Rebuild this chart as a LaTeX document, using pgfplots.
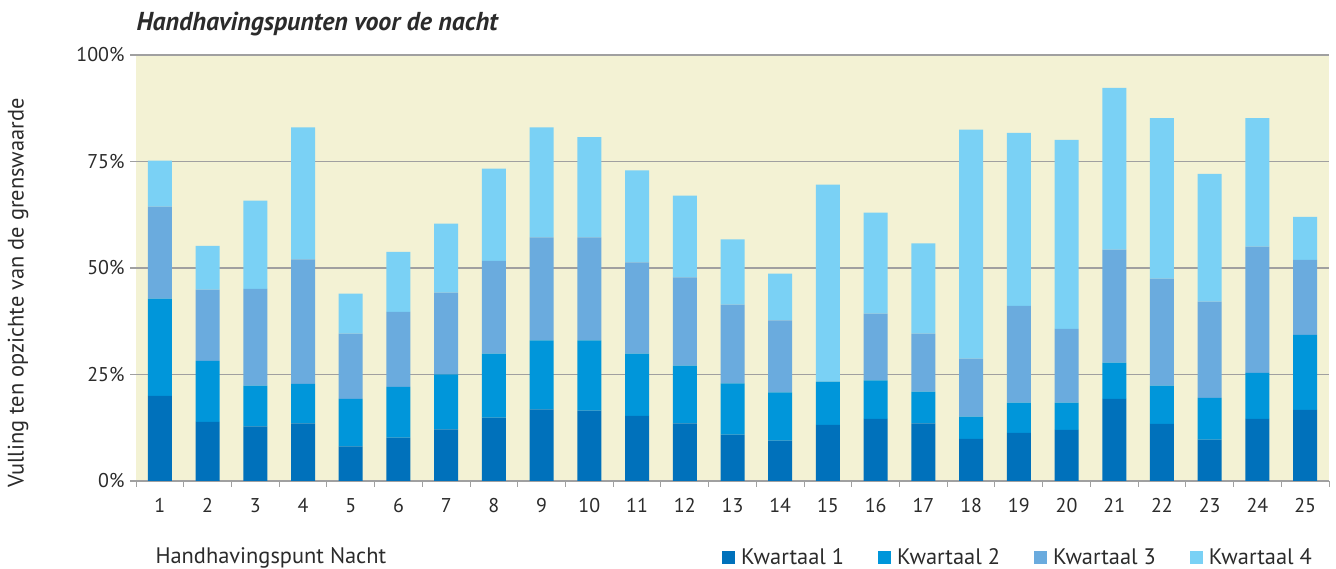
\documentclass[border=0pt]{standalone}
\usepackage{fontspec}
\setmainfont{PT Sans}
\usepackage{pgfplots}
\usepackage{pgfplotstable}
\pgfplotsset{compat=1.18}

\definecolor{kwa}{HTML}{0071BB}
\definecolor{kwb}{HTML}{0096DA}
\definecolor{kwc}{HTML}{6AABDE}
\definecolor{kwd}{HTML}{7AD1F5}
\definecolor{bgyel}{HTML}{F3F2D4}
\definecolor{gridgr}{HTML}{A0A0A0}
\definecolor{txt}{HTML}{2B2B2B}

% share of the limit per quarter (stacked parts, in %)
\pgfplotstableread{
x  q1   q2   q3   q4
1  20.0 22.8 21.6 10.8
2  13.9 14.3 16.7 10.3
3  12.8  9.6 22.7 20.7
4  13.5  9.3 29.2 31.0
5   8.1 11.2 15.3  9.4
6  10.2 11.9 17.6 14.1
7  12.1 12.9 19.2 16.2
8  14.9 15.0 21.8 21.6
9  16.8 16.2 24.2 25.8
10 16.5 16.5 24.2 23.5
11 15.3 14.6 21.4 21.6
12 13.5 13.6 20.7 19.2
13 10.9 12.0 18.5 15.3
14  9.5 11.3 16.9 11.0
15 13.2 10.1  0.0 46.3
16 14.6  9.0 15.7 23.7
17 13.5  7.5 13.6 21.2
18  9.9  5.2 13.6 53.8
19 11.3  7.1 22.7 40.6
20 12.0  6.4 17.3 44.4
21 19.3  8.5 26.5 38.0
22 13.4  9.0 25.1 37.7
23  9.7  9.8 22.6 30.0
24 14.6 10.8 29.6 30.2
25 16.7 17.6 17.6 10.1
}\kwartalen

\begin{document}
\begin{tikzpicture}
\useasboundingbox (0,0) rectangle (1336bp,569bp);
\begin{axis}[
    at={(136bp,88bp)}, anchor=south west,
    scale only axis,
    width=1193bp, height=426bp,
    ybar stacked,
    bar width=24bp,
    xmin=0.5, xmax=25.5,
    ymin=0, ymax=100,
    axis background/.style={fill=bgyel},
    axis x line*=bottom,
    axis y line*=left,
    y axis line style={draw=none},
    x axis line style={gridgr, line width=1.2bp},
    xtick={1,...,25},
    xticklabels={1,2,3,4,5,6,7,8,9,10,11,12,13,14,15,16,17,18,19,20,21,22,23,24,25},
    major x tick style={draw=none},
    minor xtick={0.5,1.5,...,25.5},
    minor x tick style={gridgr, line width=1bp},
    minor tick length=6bp,
    ytick={0,25,50,75,100},
    yticklabels={0\%,25\%,50\%,75\%,100\%},
    major tick length=6bp,
    tick align=outside,
    y tick style={gridgr, line width=1.2bp},
    ymajorgrids,
    major grid style={gridgr, line width=1.2bp},
    tick label style={font=\fontsize{20}{23}\selectfont, text=txt},
    xticklabel style={yshift=-8bp},
    yticklabel style={xshift=-2bp},
    legend style={draw=none, fill=none, at={(0.99,-0.18)}, anchor=east,
        legend columns=4, font=\fontsize{22.5}{26}\selectfont, text=txt,
        /tikz/every odd column/.append style={column sep=4bp},
        /tikz/every even column/.append style={column sep=32bp}},
    legend image code/.code={\fill[#1, draw=none] (0bp,-6bp) rectangle (13bp,7bp);},
]
\addplot[fill=kwa, draw=none] table[x=x, y=q1] {\kwartalen};
\addlegendentry{Kwartaal 1}
\addplot[fill=kwb, draw=none] table[x=x, y=q2] {\kwartalen};
\addlegendentry{Kwartaal 2}
\addplot[fill=kwc, draw=none] table[x=x, y=q3] {\kwartalen};
\addlegendentry{Kwartaal 3}
\addplot[fill=kwd, draw=none] table[x=x, y=q4] {\kwartalen};
\addlegendentry{Kwartaal 4}
\end{axis}
\node[anchor=west, text=txt, font=\fontsize{26}{30}\selectfont\bfseries\itshape] at (133bp,545bp) {Handhavingspunten voor de nacht};
\node[rotate=90, text=txt, font=\fontsize{22.5}{26}\selectfont] at (18bp,276bp) {Vulling ten opzichte van de grenswaarde};
\node[anchor=west, text=txt, font=\fontsize{22.5}{26}\selectfont] at (152bp,11bp) {Handhavingspunt Nacht};
\end{tikzpicture}
\end{document}
